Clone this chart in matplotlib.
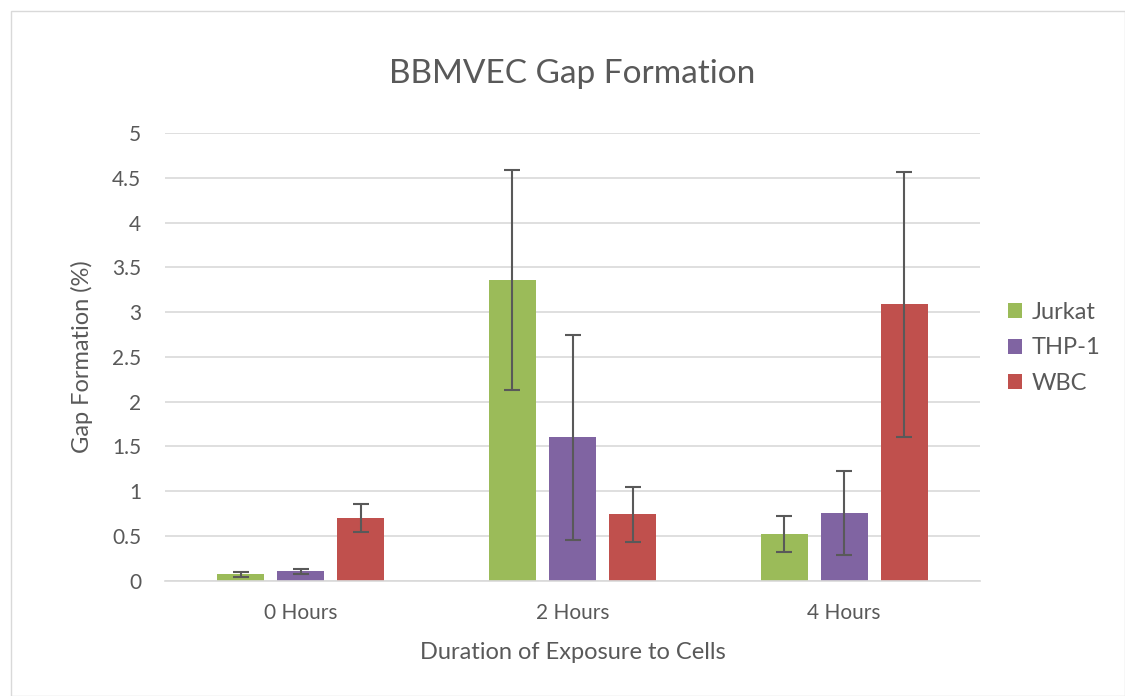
import matplotlib.pyplot as plt
import numpy as np
from matplotlib.patches import Rectangle

plt.rcParams['font.family'] = ['Lato', 'DejaVu Sans']

categories = ['0 Hours', '2 Hours', '4 Hours']
series = ['Jurkat', 'THP-1', 'WBC']
colors = ['#9BBB59', '#8064A2', '#C0504D']
jurkat = [0.07, 3.36, 0.52]
thp1 = [0.105, 1.60, 0.76]
wbc = [0.70, 0.74, 3.09]
jurkat_err = [0.03, 1.23, 0.20]
thp1_err = [0.03, 1.14, 0.47]
wbc_err = [0.16, 0.31, 1.48]

values = [jurkat, thp1, wbc]
errors = [jurkat_err, thp1_err, wbc_err]
text_col = '#595959'

fig = plt.figure(figsize=(11.25, 6.96), dpi=100)
fig.patches.append(Rectangle((11 / 1125, 0), 1 - 11 / 1125, 1 - 11 / 696,
                             transform=fig.transFigure, fill=False,
                             edgecolor='#D9D9D9', linewidth=1))
ax = fig.add_axes([165 / 1125, 1 - 580.7 / 696, 815 / 1125, (580.7 - 133) / 696])

x = np.arange(len(categories))
width = 0.173
step = 0.221
for i, (name, vals, errs, c) in enumerate(zip(series, values, errors, colors)):
    ax.bar(x + (i - 1) * step, vals, width, color=c, label=name, zorder=2)
    ax.errorbar(x + (i - 1) * step, vals, yerr=errs, fmt='none', ecolor=text_col,
                elinewidth=1.5, capsize=6, capthick=1.5, zorder=3)

ax.set_xlim(-0.5, 2.5)
ax.set_ylim(0, 5)
ax.set_yticks(np.arange(0, 5.01, 0.5))
ax.set_yticklabels(['0', '0.5', '1', '1.5', '2', '2.5', '3', '3.5', '4', '4.5', '5'])
ax.set_xticks(x)
ax.set_xticklabels(categories)
ax.grid(axis='y', color='#D9D9D9', linewidth=1.2, zorder=0)
ax.set_axisbelow(True)
for s in ['top', 'right', 'left']:
    ax.spines[s].set_visible(False)
ax.spines['bottom'].set_color('#D9D9D9')
ax.spines['bottom'].set_linewidth(1.2)
ax.tick_params(axis='both', length=0, labelsize=15, labelcolor=text_col)
ax.tick_params(axis='y', pad=17)
ax.tick_params(axis='x', pad=16)

ax.set_title('BBMVEC Gap Formation', fontsize=24, color=text_col, pad=36)
ax.set_xlabel('Duration of Exposure to Cells', fontsize=17, color=text_col, labelpad=14)
ax.set_ylabel('Gap Formation (%)', fontsize=17, color=text_col, labelpad=14)

leg = ax.legend(loc='center left', bbox_to_anchor=(1.008, 0.52), frameon=False,
                fontsize=17, handlelength=0.6, handleheight=0.6,
                handletextpad=0.4, labelspacing=0.6)
for t in leg.get_texts():
    t.set_color(text_col)

fig.savefig('out.png', dpi=100)
